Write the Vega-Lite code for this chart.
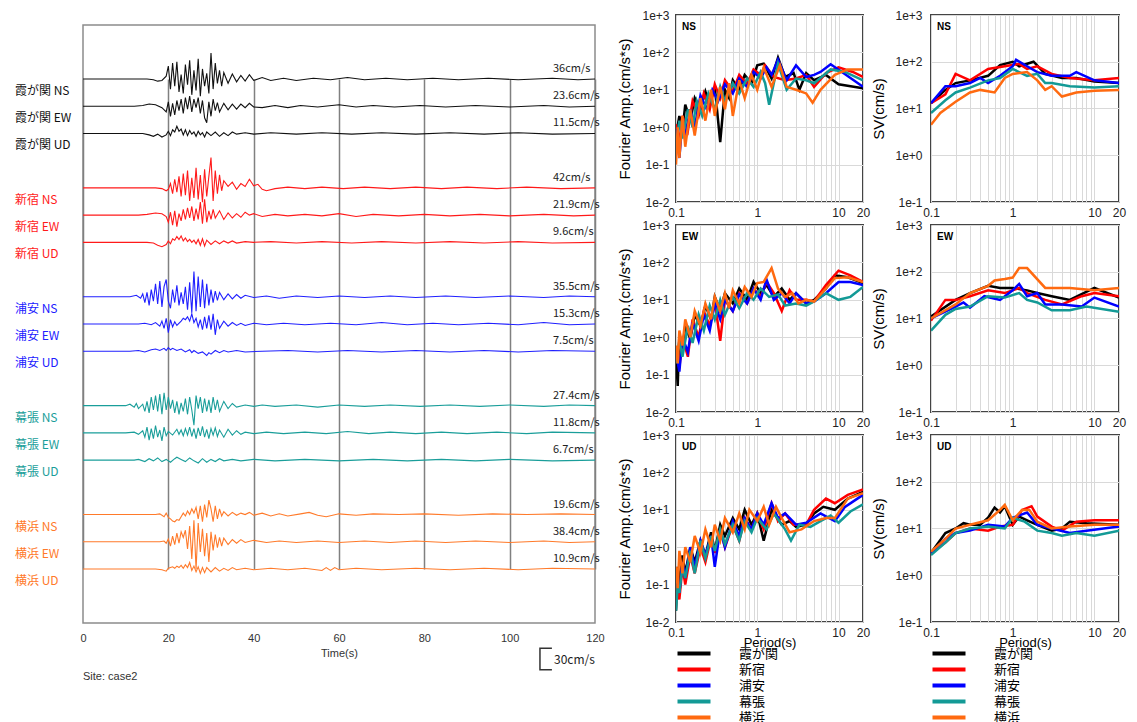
{
"$schema":"https://vega.github.io/schema/vega-lite/v6.json",
"padding":{"left":14,"top":8,"right":5,"bottom":0},
"background":"white",
"config":{"font":"Liberation Sans","axis":{"labelFont":"Liberation Sans","titleFont":"Liberation Sans"}},
"datasets":{
"wave":[
{"k":"A1","t":0,"v":0},{"k":"A1","t":15,"v":0},{"k":"A1","t":16.5,"v":-1},{"k":"A1","t":17.5,"v":-3},{"k":"A1","t":18.5,"v":-2},{"k":"A1","t":19.5,"v":4},{"k":"A1","t":20,"v":18},{"k":"A1","t":20.5,"v":-14},{"k":"A1","t":21,"v":22},{"k":"A1","t":21.5,"v":-10},{"k":"A1","t":22,"v":24},{"k":"A1","t":22.5,"v":-18},{"k":"A1","t":23,"v":6},{"k":"A1","t":23.5,"v":-20},{"k":"A1","t":24,"v":20},{"k":"A1","t":24.5,"v":-8},{"k":"A1","t":25,"v":26},{"k":"A1","t":25.5,"v":-22},{"k":"A1","t":26,"v":12},{"k":"A1","t":26.5,"v":-16},{"k":"A1","t":27,"v":28},{"k":"A1","t":27.5,"v":-24},{"k":"A1","t":28,"v":14},{"k":"A1","t":28.5,"v":-10},{"k":"A1","t":29,"v":8},{"k":"A1","t":29.5,"v":-20},{"k":"A1","t":30,"v":36},{"k":"A1","t":30.5,"v":-14},{"k":"A1","t":31,"v":22},{"k":"A1","t":31.5,"v":-6},{"k":"A1","t":32,"v":12},{"k":"A1","t":32.5,"v":-10},{"k":"A1","t":33,"v":9},{"k":"A1","t":34,"v":-6},{"k":"A1","t":35,"v":7},{"k":"A1","t":36,"v":-4},{"k":"A1","t":37,"v":5},{"k":"A1","t":38,"v":-3},{"k":"A1","t":39,"v":6},{"k":"A1","t":40,"v":-2},{"k":"A1","t":42,"v":2},{"k":"A1","t":44,"v":-2},{"k":"A1","t":47,"v":1},{"k":"A1","t":50,"v":-2},{"k":"A1","t":54,"v":1},{"k":"A1","t":58,"v":-1},{"k":"A1","t":62,"v":2},{"k":"A1","t":66,"v":-1},{"k":"A1","t":71,"v":1},{"k":"A1","t":76,"v":-1},{"k":"A1","t":82,"v":1},{"k":"A1","t":88,"v":-1},{"k":"A1","t":95,"v":1},{"k":"A1","t":102,"v":-1},{"k":"A1","t":110,"v":1},{"k":"A1","t":116,"v":-1},{"k":"A1","t":120,"v":0},
{"k":"A2","t":0,"v":0},{"k":"A2","t":12,"v":0},{"k":"A2","t":14,"v":1},{"k":"A2","t":15.5,"v":3},{"k":"A2","t":17,"v":2},{"k":"A2","t":18.5,"v":-2},{"k":"A2","t":19.5,"v":-8},{"k":"A2","t":20,"v":6},{"k":"A2","t":20.5,"v":-14},{"k":"A2","t":21,"v":4},{"k":"A2","t":21.5,"v":-12},{"k":"A2","t":22,"v":8},{"k":"A2","t":22.5,"v":-6},{"k":"A2","t":23,"v":10},{"k":"A2","t":23.5,"v":-10},{"k":"A2","t":24,"v":12},{"k":"A2","t":24.5,"v":-4},{"k":"A2","t":25,"v":14},{"k":"A2","t":25.5,"v":-8},{"k":"A2","t":26,"v":10},{"k":"A2","t":26.5,"v":-2},{"k":"A2","t":27,"v":12},{"k":"A2","t":27.5,"v":-10},{"k":"A2","t":28,"v":8},{"k":"A2","t":28.5,"v":-16},{"k":"A2","t":29,"v":-23},{"k":"A2","t":29.5,"v":6},{"k":"A2","t":30,"v":-14},{"k":"A2","t":30.5,"v":10},{"k":"A2","t":31,"v":-6},{"k":"A2","t":31.5,"v":5},{"k":"A2","t":32,"v":-8},{"k":"A2","t":33,"v":4},{"k":"A2","t":34,"v":-5},{"k":"A2","t":35,"v":3},{"k":"A2","t":36,"v":-4},{"k":"A2","t":37,"v":3},{"k":"A2","t":38,"v":-2},{"k":"A2","t":39,"v":4},{"k":"A2","t":40,"v":-1},{"k":"A2","t":42,"v":-2},{"k":"A2","t":45,"v":1},{"k":"A2","t":48,"v":-2},{"k":"A2","t":51,"v":1},{"k":"A2","t":55,"v":-1},{"k":"A2","t":60,"v":2},{"k":"A2","t":64,"v":-1},{"k":"A2","t":68,"v":1},{"k":"A2","t":73,"v":-1},{"k":"A2","t":79,"v":1},{"k":"A2","t":85,"v":-1},{"k":"A2","t":92,"v":1},{"k":"A2","t":100,"v":-1},{"k":"A2","t":108,"v":1},{"k":"A2","t":114,"v":-1},{"k":"A2","t":120,"v":0},
{"k":"A3","t":0,"v":0},{"k":"A3","t":14,"v":0},{"k":"A3","t":15.5,"v":-2},{"k":"A3","t":16.5,"v":-4},{"k":"A3","t":17.5,"v":-1},{"k":"A3","t":18.5,"v":-5},{"k":"A3","t":19.5,"v":-2},{"k":"A3","t":20,"v":3},{"k":"A3","t":20.5,"v":-3},{"k":"A3","t":21,"v":5},{"k":"A3","t":21.5,"v":2},{"k":"A3","t":22,"v":10},{"k":"A3","t":22.5,"v":3},{"k":"A3","t":23,"v":6},{"k":"A3","t":23.5,"v":-2},{"k":"A3","t":24,"v":5},{"k":"A3","t":24.5,"v":-3},{"k":"A3","t":25,"v":4},{"k":"A3","t":25.5,"v":-1},{"k":"A3","t":26,"v":2},{"k":"A3","t":26.5,"v":-4},{"k":"A3","t":27,"v":3},{"k":"A3","t":27.5,"v":-2},{"k":"A3","t":28,"v":1},{"k":"A3","t":28.5,"v":-5},{"k":"A3","t":29,"v":2},{"k":"A3","t":30,"v":-3},{"k":"A3","t":31,"v":2},{"k":"A3","t":32,"v":-4},{"k":"A3","t":33,"v":1},{"k":"A3","t":34,"v":-3},{"k":"A3","t":35,"v":2},{"k":"A3","t":36,"v":-1},{"k":"A3","t":38,"v":1},{"k":"A3","t":40,"v":-1},{"k":"A3","t":44,"v":1},{"k":"A3","t":50,"v":-1},{"k":"A3","t":56,"v":1},{"k":"A3","t":63,"v":-1},{"k":"A3","t":70,"v":1},{"k":"A3","t":78,"v":-1},{"k":"A3","t":86,"v":1},{"k":"A3","t":94,"v":-1},{"k":"A3","t":102,"v":1},{"k":"A3","t":110,"v":-1},{"k":"A3","t":120,"v":0},
{"k":"B1","t":0,"v":0},{"k":"B1","t":17,"v":0},{"k":"B1","t":18.5,"v":-1},{"k":"B1","t":19.5,"v":-4},{"k":"B1","t":20,"v":-2},{"k":"B1","t":20.5,"v":6},{"k":"B1","t":21,"v":-8},{"k":"B1","t":21.5,"v":12},{"k":"B1","t":22,"v":-6},{"k":"B1","t":22.5,"v":16},{"k":"B1","t":23,"v":-12},{"k":"B1","t":23.5,"v":20},{"k":"B1","t":24,"v":-10},{"k":"B1","t":24.5,"v":24},{"k":"B1","t":25,"v":-18},{"k":"B1","t":25.5,"v":14},{"k":"B1","t":26,"v":-14},{"k":"B1","t":26.5,"v":28},{"k":"B1","t":27,"v":-16},{"k":"B1","t":27.5,"v":18},{"k":"B1","t":28,"v":-20},{"k":"B1","t":28.5,"v":26},{"k":"B1","t":29,"v":-12},{"k":"B1","t":29.5,"v":16},{"k":"B1","t":30,"v":42},{"k":"B1","t":30.5,"v":-18},{"k":"B1","t":31,"v":24},{"k":"B1","t":31.5,"v":-8},{"k":"B1","t":32,"v":18},{"k":"B1","t":32.5,"v":-4},{"k":"B1","t":33,"v":10},{"k":"B1","t":34,"v":2},{"k":"B1","t":35,"v":8},{"k":"B1","t":36,"v":-2},{"k":"B1","t":37,"v":6},{"k":"B1","t":38,"v":2},{"k":"B1","t":39,"v":12},{"k":"B1","t":40,"v":3},{"k":"B1","t":41,"v":5},{"k":"B1","t":42,"v":-2},{"k":"B1","t":43,"v":-4},{"k":"B1","t":45,"v":-1},{"k":"B1","t":48,"v":1},{"k":"B1","t":52,"v":-1},{"k":"B1","t":56,"v":1},{"k":"B1","t":61,"v":-1},{"k":"B1","t":66,"v":1},{"k":"B1","t":72,"v":-1},{"k":"B1","t":78,"v":1},{"k":"B1","t":84,"v":-1},{"k":"B1","t":90,"v":1},{"k":"B1","t":97,"v":-1},{"k":"B1","t":104,"v":1},{"k":"B1","t":112,"v":-1},{"k":"B1","t":120,"v":0},
{"k":"B2","t":0,"v":0},{"k":"B2","t":13,"v":0},{"k":"B2","t":15,"v":1},{"k":"B2","t":17,"v":3},{"k":"B2","t":18.5,"v":2},{"k":"B2","t":19.5,"v":-2},{"k":"B2","t":20,"v":-10},{"k":"B2","t":20.5,"v":4},{"k":"B2","t":21,"v":-14},{"k":"B2","t":21.5,"v":6},{"k":"B2","t":22,"v":-16},{"k":"B2","t":22.5,"v":2},{"k":"B2","t":23,"v":-8},{"k":"B2","t":23.5,"v":8},{"k":"B2","t":24,"v":-6},{"k":"B2","t":24.5,"v":10},{"k":"B2","t":25,"v":-4},{"k":"B2","t":25.5,"v":12},{"k":"B2","t":26,"v":-8},{"k":"B2","t":26.5,"v":9},{"k":"B2","t":27,"v":-6},{"k":"B2","t":27.5,"v":18},{"k":"B2","t":28,"v":-12},{"k":"B2","t":28.5,"v":22},{"k":"B2","t":29,"v":-10},{"k":"B2","t":29.5,"v":6},{"k":"B2","t":30,"v":-6},{"k":"B2","t":30.5,"v":8},{"k":"B2","t":31,"v":-4},{"k":"B2","t":32,"v":6},{"k":"B2","t":33,"v":-6},{"k":"B2","t":34,"v":3},{"k":"B2","t":35,"v":-4},{"k":"B2","t":36,"v":2},{"k":"B2","t":37,"v":-3},{"k":"B2","t":38,"v":4},{"k":"B2","t":39,"v":0},{"k":"B2","t":40,"v":2},{"k":"B2","t":42,"v":-2},{"k":"B2","t":45,"v":1},{"k":"B2","t":48,"v":-1},{"k":"B2","t":52,"v":1},{"k":"B2","t":56,"v":-1},{"k":"B2","t":60,"v":2},{"k":"B2","t":64,"v":-2},{"k":"B2","t":68,"v":1},{"k":"B2","t":74,"v":-1},{"k":"B2","t":80,"v":1},{"k":"B2","t":86,"v":-1},{"k":"B2","t":93,"v":1},{"k":"B2","t":100,"v":-1},{"k":"B2","t":108,"v":1},{"k":"B2","t":115,"v":-1},{"k":"B2","t":120,"v":0},
{"k":"B3","t":0,"v":0},{"k":"B3","t":15,"v":0},{"k":"B3","t":16.5,"v":-1},{"k":"B3","t":17.5,"v":-4},{"k":"B3","t":18.5,"v":-6},{"k":"B3","t":19.5,"v":-3},{"k":"B3","t":20,"v":2},{"k":"B3","t":20.5,"v":-2},{"k":"B3","t":21,"v":5},{"k":"B3","t":21.5,"v":3},{"k":"B3","t":22,"v":8},{"k":"B3","t":22.5,"v":4},{"k":"B3","t":23,"v":9},{"k":"B3","t":23.5,"v":2},{"k":"B3","t":24,"v":6},{"k":"B3","t":24.5,"v":1},{"k":"B3","t":25,"v":4},{"k":"B3","t":25.5,"v":0},{"k":"B3","t":26,"v":3},{"k":"B3","t":26.5,"v":-2},{"k":"B3","t":27,"v":4},{"k":"B3","t":27.5,"v":-4},{"k":"B3","t":28,"v":5},{"k":"B3","t":28.5,"v":-5},{"k":"B3","t":29,"v":3},{"k":"B3","t":30,"v":-3},{"k":"B3","t":31,"v":2},{"k":"B3","t":32,"v":-2},{"k":"B3","t":33,"v":2},{"k":"B3","t":34,"v":-1},{"k":"B3","t":35,"v":2},{"k":"B3","t":36,"v":-1},{"k":"B3","t":38,"v":1},{"k":"B3","t":40,"v":0},{"k":"B3","t":44,"v":1},{"k":"B3","t":50,"v":-1},{"k":"B3","t":56,"v":1},{"k":"B3","t":63,"v":-1},{"k":"B3","t":70,"v":1},{"k":"B3","t":78,"v":-1},{"k":"B3","t":86,"v":1},{"k":"B3","t":94,"v":-1},{"k":"B3","t":102,"v":1},{"k":"B3","t":110,"v":-1},{"k":"B3","t":120,"v":0},
{"k":"C1","t":0,"v":0},{"k":"C1","t":11,"v":0},{"k":"C1","t":12.5,"v":2},{"k":"C1","t":13.5,"v":-2},{"k":"C1","t":14,"v":4},{"k":"C1","t":14.5,"v":-8},{"k":"C1","t":15,"v":6},{"k":"C1","t":15.5,"v":-12},{"k":"C1","t":16,"v":10},{"k":"C1","t":16.5,"v":-6},{"k":"C1","t":17,"v":18},{"k":"C1","t":17.5,"v":-10},{"k":"C1","t":18,"v":22},{"k":"C1","t":18.5,"v":-14},{"k":"C1","t":19,"v":14},{"k":"C1","t":19.5,"v":24},{"k":"C1","t":20,"v":-6},{"k":"C1","t":20.5,"v":-16},{"k":"C1","t":21,"v":10},{"k":"C1","t":21.5,"v":-8},{"k":"C1","t":22,"v":16},{"k":"C1","t":22.5,"v":-12},{"k":"C1","t":23,"v":6},{"k":"C1","t":23.5,"v":-10},{"k":"C1","t":24,"v":14},{"k":"C1","t":24.5,"v":-18},{"k":"C1","t":25,"v":20},{"k":"C1","t":25.5,"v":-22},{"k":"C1","t":26,"v":35},{"k":"C1","t":26.5,"v":-20},{"k":"C1","t":27,"v":28},{"k":"C1","t":27.5,"v":-14},{"k":"C1","t":28,"v":24},{"k":"C1","t":28.5,"v":-16},{"k":"C1","t":29,"v":18},{"k":"C1","t":29.5,"v":-12},{"k":"C1","t":30,"v":10},{"k":"C1","t":30.5,"v":-8},{"k":"C1","t":31,"v":8},{"k":"C1","t":31.5,"v":-5},{"k":"C1","t":32,"v":6},{"k":"C1","t":33,"v":-4},{"k":"C1","t":34,"v":4},{"k":"C1","t":35,"v":-3},{"k":"C1","t":36,"v":3},{"k":"C1","t":37,"v":-2},{"k":"C1","t":38,"v":2},{"k":"C1","t":40,"v":-1},{"k":"C1","t":43,"v":1},{"k":"C1","t":46,"v":-2},{"k":"C1","t":50,"v":1},{"k":"C1","t":55,"v":-1},{"k":"C1","t":60,"v":1},{"k":"C1","t":66,"v":-1},{"k":"C1","t":72,"v":1},{"k":"C1","t":78,"v":-1},{"k":"C1","t":85,"v":1},{"k":"C1","t":92,"v":-1},{"k":"C1","t":100,"v":1},{"k":"C1","t":108,"v":-1},{"k":"C1","t":114,"v":1},{"k":"C1","t":120,"v":0},
{"k":"C2","t":0,"v":0},{"k":"C2","t":13,"v":0},{"k":"C2","t":14.5,"v":1},{"k":"C2","t":16,"v":-1},{"k":"C2","t":17,"v":2},{"k":"C2","t":18,"v":-3},{"k":"C2","t":18.5,"v":4},{"k":"C2","t":19,"v":-6},{"k":"C2","t":19.5,"v":8},{"k":"C2","t":20,"v":-12},{"k":"C2","t":20.5,"v":6},{"k":"C2","t":21,"v":-4},{"k":"C2","t":21.5,"v":3},{"k":"C2","t":22,"v":-2},{"k":"C2","t":23,"v":4},{"k":"C2","t":23.5,"v":8},{"k":"C2","t":24,"v":6},{"k":"C2","t":24.5,"v":10},{"k":"C2","t":25,"v":4},{"k":"C2","t":25.5,"v":14},{"k":"C2","t":26,"v":2},{"k":"C2","t":26.5,"v":8},{"k":"C2","t":27,"v":-4},{"k":"C2","t":27.5,"v":6},{"k":"C2","t":28,"v":-8},{"k":"C2","t":28.5,"v":10},{"k":"C2","t":29,"v":-6},{"k":"C2","t":29.5,"v":12},{"k":"C2","t":30,"v":-8},{"k":"C2","t":30.5,"v":14},{"k":"C2","t":31,"v":-15},{"k":"C2","t":31.5,"v":6},{"k":"C2","t":32,"v":-6},{"k":"C2","t":33,"v":4},{"k":"C2","t":34,"v":-3},{"k":"C2","t":35,"v":2},{"k":"C2","t":36,"v":-2},{"k":"C2","t":37,"v":1},{"k":"C2","t":38,"v":-2},{"k":"C2","t":40,"v":1},{"k":"C2","t":43,"v":-1},{"k":"C2","t":47,"v":1},{"k":"C2","t":52,"v":-1},{"k":"C2","t":58,"v":1},{"k":"C2","t":64,"v":-1},{"k":"C2","t":70,"v":2},{"k":"C2","t":76,"v":-1},{"k":"C2","t":82,"v":1},{"k":"C2","t":88,"v":-1},{"k":"C2","t":95,"v":1},{"k":"C2","t":102,"v":-1},{"k":"C2","t":108,"v":2},{"k":"C2","t":114,"v":-1},{"k":"C2","t":120,"v":0},
{"k":"C3","t":0,"v":0},{"k":"C3","t":11,"v":0},{"k":"C3","t":13,"v":1},{"k":"C3","t":14.5,"v":-1},{"k":"C3","t":16,"v":2},{"k":"C3","t":17,"v":3},{"k":"C3","t":18,"v":1},{"k":"C3","t":19,"v":4},{"k":"C3","t":19.5,"v":1},{"k":"C3","t":20,"v":5},{"k":"C3","t":20.5,"v":2},{"k":"C3","t":21,"v":4},{"k":"C3","t":22,"v":1},{"k":"C3","t":23,"v":3},{"k":"C3","t":24,"v":-1},{"k":"C3","t":25,"v":2},{"k":"C3","t":25.5,"v":-2},{"k":"C3","t":26,"v":1},{"k":"C3","t":27,"v":-3},{"k":"C3","t":28,"v":-1},{"k":"C3","t":29,"v":-6},{"k":"C3","t":29.5,"v":-2},{"k":"C3","t":30,"v":-4},{"k":"C3","t":31,"v":1},{"k":"C3","t":32,"v":-2},{"k":"C3","t":33,"v":1},{"k":"C3","t":34,"v":-1},{"k":"C3","t":36,"v":1},{"k":"C3","t":38,"v":-1},{"k":"C3","t":42,"v":0},{"k":"C3","t":48,"v":1},{"k":"C3","t":55,"v":-1},{"k":"C3","t":62,"v":1},{"k":"C3","t":70,"v":-1},{"k":"C3","t":78,"v":1},{"k":"C3","t":86,"v":-1},{"k":"C3","t":94,"v":1},{"k":"C3","t":102,"v":-1},{"k":"C3","t":110,"v":1},{"k":"C3","t":120,"v":0},
{"k":"D1","t":0,"v":0},{"k":"D1","t":10,"v":0},{"k":"D1","t":11,"v":2},{"k":"D1","t":12,"v":-2},{"k":"D1","t":12.5,"v":3},{"k":"D1","t":13,"v":-4},{"k":"D1","t":14,"v":2},{"k":"D1","t":14.5,"v":-8},{"k":"D1","t":15,"v":6},{"k":"D1","t":15.5,"v":-10},{"k":"D1","t":16,"v":12},{"k":"D1","t":16.5,"v":-6},{"k":"D1","t":17,"v":14},{"k":"D1","t":17.5,"v":-8},{"k":"D1","t":18,"v":16},{"k":"D1","t":18.5,"v":-12},{"k":"D1","t":19,"v":18},{"k":"D1","t":19.5,"v":-6},{"k":"D1","t":20,"v":12},{"k":"D1","t":20.5,"v":-4},{"k":"D1","t":21,"v":8},{"k":"D1","t":21.5,"v":-10},{"k":"D1","t":22,"v":6},{"k":"D1","t":22.5,"v":-12},{"k":"D1","t":23,"v":4},{"k":"D1","t":23.5,"v":-8},{"k":"D1","t":24,"v":10},{"k":"D1","t":24.5,"v":-12},{"k":"D1","t":25,"v":12},{"k":"D1","t":25.5,"v":-6},{"k":"D1","t":26,"v":-27},{"k":"D1","t":26.5,"v":14},{"k":"D1","t":27,"v":-4},{"k":"D1","t":27.5,"v":12},{"k":"D1","t":28,"v":-10},{"k":"D1","t":28.5,"v":10},{"k":"D1","t":29,"v":-8},{"k":"D1","t":29.5,"v":8},{"k":"D1","t":30,"v":-10},{"k":"D1","t":30.5,"v":12},{"k":"D1","t":31,"v":-6},{"k":"D1","t":31.5,"v":8},{"k":"D1","t":32,"v":-8},{"k":"D1","t":33,"v":6},{"k":"D1","t":34,"v":-4},{"k":"D1","t":35,"v":3},{"k":"D1","t":36,"v":-2},{"k":"D1","t":38,"v":1},{"k":"D1","t":40,"v":-1},{"k":"D1","t":42,"v":1},{"k":"D1","t":45,"v":-1},{"k":"D1","t":50,"v":1},{"k":"D1","t":55,"v":-2},{"k":"D1","t":60,"v":1},{"k":"D1","t":66,"v":-1},{"k":"D1","t":72,"v":1},{"k":"D1","t":79,"v":-1},{"k":"D1","t":86,"v":1},{"k":"D1","t":93,"v":-1},{"k":"D1","t":100,"v":1},{"k":"D1","t":108,"v":-1},{"k":"D1","t":114,"v":1},{"k":"D1","t":120,"v":0},
{"k":"D2","t":0,"v":0},{"k":"D2","t":10,"v":0},{"k":"D2","t":12,"v":1},{"k":"D2","t":13,"v":-2},{"k":"D2","t":14,"v":3},{"k":"D2","t":14.5,"v":-6},{"k":"D2","t":15,"v":8},{"k":"D2","t":15.5,"v":-10},{"k":"D2","t":16,"v":6},{"k":"D2","t":16.5,"v":-8},{"k":"D2","t":17,"v":10},{"k":"D2","t":17.5,"v":-6},{"k":"D2","t":18,"v":4},{"k":"D2","t":18.5,"v":-11},{"k":"D2","t":19,"v":8},{"k":"D2","t":19.5,"v":-4},{"k":"D2","t":20,"v":2},{"k":"D2","t":21,"v":-3},{"k":"D2","t":22,"v":5},{"k":"D2","t":22.5,"v":-2},{"k":"D2","t":23,"v":4},{"k":"D2","t":23.5,"v":-4},{"k":"D2","t":24,"v":6},{"k":"D2","t":24.5,"v":-3},{"k":"D2","t":25,"v":8},{"k":"D2","t":25.5,"v":-5},{"k":"D2","t":26,"v":6},{"k":"D2","t":26.5,"v":-8},{"k":"D2","t":27,"v":7},{"k":"D2","t":27.5,"v":-4},{"k":"D2","t":28,"v":9},{"k":"D2","t":28.5,"v":-6},{"k":"D2","t":29,"v":5},{"k":"D2","t":29.5,"v":-8},{"k":"D2","t":30,"v":6},{"k":"D2","t":30.5,"v":-3},{"k":"D2","t":31,"v":7},{"k":"D2","t":31.5,"v":-5},{"k":"D2","t":32,"v":4},{"k":"D2","t":33,"v":-6},{"k":"D2","t":34,"v":5},{"k":"D2","t":35,"v":-3},{"k":"D2","t":36,"v":3},{"k":"D2","t":37,"v":-2},{"k":"D2","t":38,"v":1},{"k":"D2","t":40,"v":-1},{"k":"D2","t":43,"v":1},{"k":"D2","t":47,"v":-1},{"k":"D2","t":52,"v":1},{"k":"D2","t":57,"v":-1},{"k":"D2","t":62,"v":2},{"k":"D2","t":67,"v":-1},{"k":"D2","t":72,"v":1},{"k":"D2","t":78,"v":-1},{"k":"D2","t":84,"v":1},{"k":"D2","t":90,"v":-1},{"k":"D2","t":97,"v":1},{"k":"D2","t":104,"v":-1},{"k":"D2","t":110,"v":1},{"k":"D2","t":120,"v":0},
{"k":"D3","t":0,"v":0},{"k":"D3","t":12,"v":0},{"k":"D3","t":13,"v":1},{"k":"D3","t":14.5,"v":-2},{"k":"D3","t":15.5,"v":2},{"k":"D3","t":16.5,"v":-1},{"k":"D3","t":17.5,"v":3},{"k":"D3","t":18.5,"v":-2},{"k":"D3","t":19.5,"v":1},{"k":"D3","t":20.5,"v":-3},{"k":"D3","t":21.5,"v":2},{"k":"D3","t":22,"v":4},{"k":"D3","t":23,"v":1},{"k":"D3","t":24,"v":-2},{"k":"D3","t":25,"v":3},{"k":"D3","t":26,"v":-1},{"k":"D3","t":27,"v":-4},{"k":"D3","t":28,"v":2},{"k":"D3","t":29,"v":-3},{"k":"D3","t":30,"v":1},{"k":"D3","t":31,"v":-2},{"k":"D3","t":32,"v":2},{"k":"D3","t":33,"v":-1},{"k":"D3","t":35,"v":1},{"k":"D3","t":37,"v":-1},{"k":"D3","t":40,"v":1},{"k":"D3","t":45,"v":-1},{"k":"D3","t":52,"v":1},{"k":"D3","t":60,"v":-1},{"k":"D3","t":68,"v":1},{"k":"D3","t":76,"v":-1},{"k":"D3","t":84,"v":1},{"k":"D3","t":92,"v":-1},{"k":"D3","t":100,"v":1},{"k":"D3","t":110,"v":-1},{"k":"D3","t":120,"v":0},
{"k":"E1","t":0,"v":0},{"k":"E1","t":17,"v":0},{"k":"E1","t":18,"v":1},{"k":"E1","t":19,"v":-3},{"k":"E1","t":19.5,"v":2},{"k":"E1","t":20,"v":-4},{"k":"E1","t":20.5,"v":-6},{"k":"E1","t":21,"v":-9},{"k":"E1","t":21.5,"v":-10},{"k":"E1","t":22,"v":-7},{"k":"E1","t":22.5,"v":-8},{"k":"E1","t":23,"v":-3},{"k":"E1","t":23.5,"v":2},{"k":"E1","t":24,"v":-2},{"k":"E1","t":24.5,"v":5},{"k":"E1","t":25,"v":0},{"k":"E1","t":25.5,"v":8},{"k":"E1","t":26,"v":2},{"k":"E1","t":26.5,"v":10},{"k":"E1","t":27,"v":-6},{"k":"E1","t":27.5,"v":12},{"k":"E1","t":28,"v":-10},{"k":"E1","t":28.5,"v":14},{"k":"E1","t":29,"v":-4},{"k":"E1","t":29.5,"v":20},{"k":"E1","t":30,"v":8},{"k":"E1","t":30.5,"v":-10},{"k":"E1","t":31,"v":12},{"k":"E1","t":31.5,"v":-6},{"k":"E1","t":32,"v":8},{"k":"E1","t":32.5,"v":-2},{"k":"E1","t":33,"v":4},{"k":"E1","t":34,"v":-2},{"k":"E1","t":35,"v":3},{"k":"E1","t":36,"v":-1},{"k":"E1","t":37,"v":2},{"k":"E1","t":38,"v":0},{"k":"E1","t":39,"v":3},{"k":"E1","t":40,"v":-1},{"k":"E1","t":42,"v":2},{"k":"E1","t":44,"v":-2},{"k":"E1","t":46,"v":1},{"k":"E1","t":48,"v":-2},{"k":"E1","t":51,"v":1},{"k":"E1","t":53,"v":3},{"k":"E1","t":55,"v":-1},{"k":"E1","t":57,"v":-3},{"k":"E1","t":60,"v":1},{"k":"E1","t":64,"v":-1},{"k":"E1","t":68,"v":1},{"k":"E1","t":74,"v":0},{"k":"E1","t":80,"v":1},{"k":"E1","t":88,"v":-1},{"k":"E1","t":96,"v":1},{"k":"E1","t":104,"v":0},{"k":"E1","t":112,"v":1},{"k":"E1","t":120,"v":0},
{"k":"E2","t":0,"v":0},{"k":"E2","t":18,"v":0},{"k":"E2","t":19,"v":1},{"k":"E2","t":19.5,"v":-2},{"k":"E2","t":20,"v":4},{"k":"E2","t":20.5,"v":-6},{"k":"E2","t":21,"v":8},{"k":"E2","t":21.5,"v":-4},{"k":"E2","t":22,"v":12},{"k":"E2","t":22.5,"v":-2},{"k":"E2","t":23,"v":14},{"k":"E2","t":23.5,"v":6},{"k":"E2","t":24,"v":16},{"k":"E2","t":24.5,"v":-10},{"k":"E2","t":25,"v":22},{"k":"E2","t":25.5,"v":-24},{"k":"E2","t":26,"v":30},{"k":"E2","t":26.5,"v":-38},{"k":"E2","t":27,"v":26},{"k":"E2","t":27.5,"v":-14},{"k":"E2","t":28,"v":18},{"k":"E2","t":28.5,"v":-20},{"k":"E2","t":29,"v":12},{"k":"E2","t":29.5,"v":-28},{"k":"E2","t":30,"v":14},{"k":"E2","t":30.5,"v":-12},{"k":"E2","t":31,"v":10},{"k":"E2","t":31.5,"v":-8},{"k":"E2","t":32,"v":6},{"k":"E2","t":32.5,"v":-6},{"k":"E2","t":33,"v":5},{"k":"E2","t":34,"v":-4},{"k":"E2","t":35,"v":3},{"k":"E2","t":36,"v":-2},{"k":"E2","t":37,"v":3},{"k":"E2","t":38,"v":-1},{"k":"E2","t":40,"v":2},{"k":"E2","t":43,"v":-1},{"k":"E2","t":46,"v":1},{"k":"E2","t":50,"v":-1},{"k":"E2","t":55,"v":1},{"k":"E2","t":60,"v":-1},{"k":"E2","t":66,"v":1},{"k":"E2","t":72,"v":-1},{"k":"E2","t":78,"v":1},{"k":"E2","t":85,"v":-1},{"k":"E2","t":92,"v":1},{"k":"E2","t":100,"v":-1},{"k":"E2","t":108,"v":1},{"k":"E2","t":114,"v":-1},{"k":"E2","t":120,"v":0},
{"k":"E3","t":0,"v":0},{"k":"E3","t":17,"v":0},{"k":"E3","t":18.5,"v":-1},{"k":"E3","t":19.5,"v":-3},{"k":"E3","t":20,"v":1},{"k":"E3","t":21,"v":3},{"k":"E3","t":21.5,"v":1},{"k":"E3","t":22,"v":4},{"k":"E3","t":22.5,"v":2},{"k":"E3","t":23,"v":5},{"k":"E3","t":23.5,"v":1},{"k":"E3","t":24,"v":6},{"k":"E3","t":24.5,"v":2},{"k":"E3","t":25,"v":9},{"k":"E3","t":25.5,"v":-2},{"k":"E3","t":26,"v":4},{"k":"E3","t":26.5,"v":-4},{"k":"E3","t":27,"v":3},{"k":"E3","t":27.5,"v":-6},{"k":"E3","t":28,"v":2},{"k":"E3","t":28.5,"v":-5},{"k":"E3","t":29,"v":2},{"k":"E3","t":30,"v":-4},{"k":"E3","t":31,"v":2},{"k":"E3","t":32,"v":-3},{"k":"E3","t":33,"v":1},{"k":"E3","t":34,"v":-2},{"k":"E3","t":35,"v":2},{"k":"E3","t":36,"v":-1},{"k":"E3","t":38,"v":1},{"k":"E3","t":40,"v":-1},{"k":"E3","t":44,"v":1},{"k":"E3","t":48,"v":-1},{"k":"E3","t":52,"v":1},{"k":"E3","t":56,"v":-2},{"k":"E3","t":57,"v":2},{"k":"E3","t":58,"v":-2},{"k":"E3","t":59,"v":2},{"k":"E3","t":60,"v":-1},{"k":"E3","t":64,"v":1},{"k":"E3","t":70,"v":-1},{"k":"E3","t":78,"v":1},{"k":"E3","t":86,"v":-1},{"k":"E3","t":94,"v":1},{"k":"E3","t":102,"v":-1},{"k":"E3","t":110,"v":1},{"k":"E3","t":120,"v":0}
],
"labs":[
{"k":"A1","lab":"霞が関 NS","amp":"36cm/s"},{"k":"A2","lab":"霞が関 EW","amp":"23.6cm/s"},{"k":"A3","lab":"霞が関 UD","amp":"11.5cm/s"},
{"k":"B1","lab":"新宿 NS","amp":"42cm/s"},{"k":"B2","lab":"新宿 EW","amp":"21.9cm/s"},{"k":"B3","lab":"新宿 UD","amp":"9.6cm/s"},
{"k":"C1","lab":"浦安 NS","amp":"35.5cm/s"},{"k":"C2","lab":"浦安 EW","amp":"15.3cm/s"},{"k":"C3","lab":"浦安 UD","amp":"7.5cm/s"},
{"k":"D1","lab":"幕張 NS","amp":"27.4cm/s"},{"k":"D2","lab":"幕張 EW","amp":"11.8cm/s"},{"k":"D3","lab":"幕張 UD","amp":"6.7cm/s"},
{"k":"E1","lab":"横浜 NS","amp":"19.6cm/s"},{"k":"E2","lab":"横浜 EW","amp":"38.4cm/s"},{"k":"E3","lab":"横浜 UD","amp":"10.9cm/s"}
],
"bar":[{"o":1,"t":109.9,"v":-110},{"o":2,"t":107.1,"v":-110},{"o":3,"t":107.1,"v":-140},{"o":4,"t":109.9,"v":-140}],
"spec":[
{"g":"FN","s":"A","p":0.1,"a":0.6},{"g":"FN","s":"A","p":0.11,"a":2},{"g":"FN","s":"A","p":0.12,"a":0.8},{"g":"FN","s":"A","p":0.13,"a":4},{"g":"FN","s":"A","p":0.15,"a":1.5},{"g":"FN","s":"A","p":0.17,"a":6},{"g":"FN","s":"A","p":0.2,"a":3},{"g":"FN","s":"A","p":0.23,"a":9},{"g":"FN","s":"A","p":0.26,"a":4},{"g":"FN","s":"A","p":0.3,"a":12},{"g":"FN","s":"A","p":0.35,"a":0.4},{"g":"FN","s":"A","p":0.4,"a":10},{"g":"FN","s":"A","p":0.45,"a":6},{"g":"FN","s":"A","p":0.5,"a":18},{"g":"FN","s":"A","p":0.6,"a":10},{"g":"FN","s":"A","p":0.7,"a":25},{"g":"FN","s":"A","p":0.85,"a":15},{"g":"FN","s":"A","p":1,"a":45},{"g":"FN","s":"A","p":1.2,"a":50},{"g":"FN","s":"A","p":1.5,"a":20},{"g":"FN","s":"A","p":1.8,"a":72},{"g":"FN","s":"A","p":2.2,"a":22},{"g":"FN","s":"A","p":2.8,"a":28},{"g":"FN","s":"A","p":3.3,"a":10},{"g":"FN","s":"A","p":4,"a":28},{"g":"FN","s":"A","p":5,"a":18},{"g":"FN","s":"A","p":7,"a":25},{"g":"FN","s":"A","p":10,"a":14},{"g":"FN","s":"A","p":20,"a":11},
{"g":"FN","s":"B","p":0.1,"a":1.2},{"g":"FN","s":"B","p":0.11,"a":0.4},{"g":"FN","s":"B","p":0.12,"a":2},{"g":"FN","s":"B","p":0.14,"a":0.8},{"g":"FN","s":"B","p":0.16,"a":5},{"g":"FN","s":"B","p":0.19,"a":2},{"g":"FN","s":"B","p":0.22,"a":8},{"g":"FN","s":"B","p":0.26,"a":3},{"g":"FN","s":"B","p":0.3,"a":14},{"g":"FN","s":"B","p":0.35,"a":6},{"g":"FN","s":"B","p":0.4,"a":18},{"g":"FN","s":"B","p":0.5,"a":9},{"g":"FN","s":"B","p":0.6,"a":25},{"g":"FN","s":"B","p":0.75,"a":14},{"g":"FN","s":"B","p":0.9,"a":35},{"g":"FN","s":"B","p":1.1,"a":25},{"g":"FN","s":"B","p":1.25,"a":45},{"g":"FN","s":"B","p":1.6,"a":22},{"g":"FN","s":"B","p":2.2,"a":18},{"g":"FN","s":"B","p":3,"a":20},{"g":"FN","s":"B","p":4,"a":25},{"g":"FN","s":"B","p":5,"a":12},{"g":"FN","s":"B","p":7,"a":28},{"g":"FN","s":"B","p":10,"a":40},{"g":"FN","s":"B","p":15,"a":30},{"g":"FN","s":"B","p":20,"a":22},
{"g":"FN","s":"C","p":0.1,"a":0.9},{"g":"FN","s":"C","p":0.11,"a":0.15},{"g":"FN","s":"C","p":0.12,"a":1.5},{"g":"FN","s":"C","p":0.13,"a":0.6},{"g":"FN","s":"C","p":0.15,"a":3},{"g":"FN","s":"C","p":0.17,"a":1},{"g":"FN","s":"C","p":0.2,"a":7},{"g":"FN","s":"C","p":0.24,"a":3},{"g":"FN","s":"C","p":0.28,"a":10},{"g":"FN","s":"C","p":0.33,"a":5},{"g":"FN","s":"C","p":0.4,"a":14},{"g":"FN","s":"C","p":0.5,"a":8},{"g":"FN","s":"C","p":0.6,"a":20},{"g":"FN","s":"C","p":0.75,"a":12},{"g":"FN","s":"C","p":0.9,"a":30},{"g":"FN","s":"C","p":1.1,"a":20},{"g":"FN","s":"C","p":1.3,"a":40},{"g":"FN","s":"C","p":1.5,"a":25},{"g":"FN","s":"C","p":1.8,"a":65},{"g":"FN","s":"C","p":2.3,"a":18},{"g":"FN","s":"C","p":3,"a":45},{"g":"FN","s":"C","p":4,"a":22},{"g":"FN","s":"C","p":5,"a":25},{"g":"FN","s":"C","p":6,"a":30},{"g":"FN","s":"C","p":8,"a":48},{"g":"FN","s":"C","p":11,"a":30},{"g":"FN","s":"C","p":20,"a":12},
{"g":"FN","s":"D","p":0.1,"a":0.3},{"g":"FN","s":"D","p":0.11,"a":1.5},{"g":"FN","s":"D","p":0.12,"a":0.5},{"g":"FN","s":"D","p":0.14,"a":3},{"g":"FN","s":"D","p":0.16,"a":1},{"g":"FN","s":"D","p":0.18,"a":5},{"g":"FN","s":"D","p":0.21,"a":2},{"g":"FN","s":"D","p":0.25,"a":8},{"g":"FN","s":"D","p":0.3,"a":3},{"g":"FN","s":"D","p":0.35,"a":12},{"g":"FN","s":"D","p":0.4,"a":5},{"g":"FN","s":"D","p":0.5,"a":15},{"g":"FN","s":"D","p":0.6,"a":8},{"g":"FN","s":"D","p":0.75,"a":20},{"g":"FN","s":"D","p":0.9,"a":12},{"g":"FN","s":"D","p":1.1,"a":30},{"g":"FN","s":"D","p":1.25,"a":15},{"g":"FN","s":"D","p":1.4,"a":4},{"g":"FN","s":"D","p":1.8,"a":50},{"g":"FN","s":"D","p":2.3,"a":10},{"g":"FN","s":"D","p":3,"a":20},{"g":"FN","s":"D","p":4,"a":18},{"g":"FN","s":"D","p":5,"a":15},{"g":"FN","s":"D","p":8,"a":35},{"g":"FN","s":"D","p":12,"a":30},{"g":"FN","s":"D","p":20,"a":18},
{"g":"FN","s":"E","p":0.1,"a":0.1},{"g":"FN","s":"E","p":0.105,"a":1},{"g":"FN","s":"E","p":0.11,"a":0.15},{"g":"FN","s":"E","p":0.12,"a":2},{"g":"FN","s":"E","p":0.13,"a":0.3},{"g":"FN","s":"E","p":0.15,"a":3},{"g":"FN","s":"E","p":0.17,"a":0.6},{"g":"FN","s":"E","p":0.2,"a":6},{"g":"FN","s":"E","p":0.23,"a":1.5},{"g":"FN","s":"E","p":0.27,"a":10},{"g":"FN","s":"E","p":0.3,"a":2},{"g":"FN","s":"E","p":0.35,"a":12},{"g":"FN","s":"E","p":0.4,"a":3},{"g":"FN","s":"E","p":0.45,"a":15},{"g":"FN","s":"E","p":0.5,"a":2},{"g":"FN","s":"E","p":0.6,"a":18},{"g":"FN","s":"E","p":0.7,"a":6},{"g":"FN","s":"E","p":0.85,"a":25},{"g":"FN","s":"E","p":1,"a":10},{"g":"FN","s":"E","p":1.2,"a":40},{"g":"FN","s":"E","p":1.5,"a":12},{"g":"FN","s":"E","p":1.9,"a":45},{"g":"FN","s":"E","p":2.3,"a":12},{"g":"FN","s":"E","p":3,"a":10},{"g":"FN","s":"E","p":4,"a":8},{"g":"FN","s":"E","p":4.8,"a":4.5},{"g":"FN","s":"E","p":6,"a":10},{"g":"FN","s":"E","p":9,"a":25},{"g":"FN","s":"E","p":13,"a":35},{"g":"FN","s":"E","p":20,"a":35},
{"g":"FE","s":"A","p":0.1,"a":0.3},{"g":"FE","s":"A","p":0.105,"a":0.05},{"g":"FE","s":"A","p":0.11,"a":1.2},{"g":"FE","s":"A","p":0.12,"a":0.5},{"g":"FE","s":"A","p":0.13,"a":2},{"g":"FE","s":"A","p":0.15,"a":0.9},{"g":"FE","s":"A","p":0.17,"a":4},{"g":"FE","s":"A","p":0.2,"a":2},{"g":"FE","s":"A","p":0.23,"a":7},{"g":"FE","s":"A","p":0.27,"a":3},{"g":"FE","s":"A","p":0.3,"a":12},{"g":"FE","s":"A","p":0.35,"a":5},{"g":"FE","s":"A","p":0.4,"a":15},{"g":"FE","s":"A","p":0.5,"a":8},{"g":"FE","s":"A","p":0.6,"a":20},{"g":"FE","s":"A","p":0.75,"a":10},{"g":"FE","s":"A","p":0.9,"a":30},{"g":"FE","s":"A","p":1.1,"a":15},{"g":"FE","s":"A","p":1.3,"a":25},{"g":"FE","s":"A","p":1.6,"a":12},{"g":"FE","s":"A","p":2,"a":20},{"g":"FE","s":"A","p":2.5,"a":10},{"g":"FE","s":"A","p":3,"a":15},{"g":"FE","s":"A","p":4,"a":8},{"g":"FE","s":"A","p":5,"a":10},{"g":"FE","s":"A","p":7,"a":20},{"g":"FE","s":"A","p":9,"a":45},{"g":"FE","s":"A","p":13,"a":40},{"g":"FE","s":"A","p":20,"a":28},
{"g":"FE","s":"B","p":0.1,"a":0.5},{"g":"FE","s":"B","p":0.11,"a":0.15},{"g":"FE","s":"B","p":0.12,"a":1},{"g":"FE","s":"B","p":0.14,"a":0.3},{"g":"FE","s":"B","p":0.16,"a":3},{"g":"FE","s":"B","p":0.19,"a":1},{"g":"FE","s":"B","p":0.22,"a":5},{"g":"FE","s":"B","p":0.26,"a":2},{"g":"FE","s":"B","p":0.3,"a":9},{"g":"FE","s":"B","p":0.35,"a":0.8},{"g":"FE","s":"B","p":0.4,"a":10},{"g":"FE","s":"B","p":0.5,"a":5},{"g":"FE","s":"B","p":0.6,"a":15},{"g":"FE","s":"B","p":0.75,"a":8},{"g":"FE","s":"B","p":0.9,"a":20},{"g":"FE","s":"B","p":1.1,"a":12},{"g":"FE","s":"B","p":1.3,"a":30},{"g":"FE","s":"B","p":1.6,"a":15},{"g":"FE","s":"B","p":2,"a":5},{"g":"FE","s":"B","p":2.5,"a":18},{"g":"FE","s":"B","p":3,"a":10},{"g":"FE","s":"B","p":4,"a":10},{"g":"FE","s":"B","p":5,"a":9},{"g":"FE","s":"B","p":7,"a":25},{"g":"FE","s":"B","p":10,"a":60},{"g":"FE","s":"B","p":14,"a":45},{"g":"FE","s":"B","p":20,"a":30},
{"g":"FE","s":"C","p":0.1,"a":0.4},{"g":"FE","s":"C","p":0.11,"a":0.12},{"g":"FE","s":"C","p":0.12,"a":1},{"g":"FE","s":"C","p":0.14,"a":0.4},{"g":"FE","s":"C","p":0.16,"a":2.5},{"g":"FE","s":"C","p":0.19,"a":0.8},{"g":"FE","s":"C","p":0.22,"a":4},{"g":"FE","s":"C","p":0.26,"a":1.5},{"g":"FE","s":"C","p":0.3,"a":8},{"g":"FE","s":"C","p":0.35,"a":3},{"g":"FE","s":"C","p":0.4,"a":10},{"g":"FE","s":"C","p":0.5,"a":5},{"g":"FE","s":"C","p":0.6,"a":14},{"g":"FE","s":"C","p":0.75,"a":8},{"g":"FE","s":"C","p":0.9,"a":20},{"g":"FE","s":"C","p":1.1,"a":10},{"g":"FE","s":"C","p":1.3,"a":35},{"g":"FE","s":"C","p":1.6,"a":10},{"g":"FE","s":"C","p":2,"a":15},{"g":"FE","s":"C","p":2.5,"a":8},{"g":"FE","s":"C","p":3,"a":15},{"g":"FE","s":"C","p":4,"a":8},{"g":"FE","s":"C","p":5,"a":9},{"g":"FE","s":"C","p":7,"a":15},{"g":"FE","s":"C","p":10,"a":30},{"g":"FE","s":"C","p":14,"a":30},{"g":"FE","s":"C","p":20,"a":25},
{"g":"FE","s":"D","p":0.1,"a":0.2},{"g":"FE","s":"D","p":0.11,"a":0.8},{"g":"FE","s":"D","p":0.12,"a":0.3},{"g":"FE","s":"D","p":0.14,"a":2},{"g":"FE","s":"D","p":0.16,"a":0.7},{"g":"FE","s":"D","p":0.19,"a":4},{"g":"FE","s":"D","p":0.22,"a":1.5},{"g":"FE","s":"D","p":0.26,"a":7},{"g":"FE","s":"D","p":0.3,"a":3},{"g":"FE","s":"D","p":0.35,"a":10},{"g":"FE","s":"D","p":0.4,"a":4},{"g":"FE","s":"D","p":0.5,"a":12},{"g":"FE","s":"D","p":0.6,"a":6},{"g":"FE","s":"D","p":0.75,"a":15},{"g":"FE","s":"D","p":0.9,"a":10},{"g":"FE","s":"D","p":1.1,"a":20},{"g":"FE","s":"D","p":1.4,"a":12},{"g":"FE","s":"D","p":1.8,"a":14},{"g":"FE","s":"D","p":2.2,"a":7},{"g":"FE","s":"D","p":3,"a":8},{"g":"FE","s":"D","p":4,"a":7},{"g":"FE","s":"D","p":5,"a":9},{"g":"FE","s":"D","p":7,"a":15},{"g":"FE","s":"D","p":10,"a":10},{"g":"FE","s":"D","p":14,"a":12},{"g":"FE","s":"D","p":20,"a":22},
{"g":"FE","s":"E","p":0.1,"a":0.6},{"g":"FE","s":"E","p":0.105,"a":0.2},{"g":"FE","s":"E","p":0.11,"a":1.5},{"g":"FE","s":"E","p":0.12,"a":0.6},{"g":"FE","s":"E","p":0.13,"a":3},{"g":"FE","s":"E","p":0.15,"a":1},{"g":"FE","s":"E","p":0.17,"a":5},{"g":"FE","s":"E","p":0.2,"a":2},{"g":"FE","s":"E","p":0.23,"a":8},{"g":"FE","s":"E","p":0.27,"a":3},{"g":"FE","s":"E","p":0.3,"a":12},{"g":"FE","s":"E","p":0.35,"a":5},{"g":"FE","s":"E","p":0.4,"a":15},{"g":"FE","s":"E","p":0.45,"a":6},{"g":"FE","s":"E","p":0.5,"a":18},{"g":"FE","s":"E","p":0.6,"a":8},{"g":"FE","s":"E","p":0.7,"a":22},{"g":"FE","s":"E","p":0.85,"a":12},{"g":"FE","s":"E","p":1,"a":28},{"g":"FE","s":"E","p":1.2,"a":30},{"g":"FE","s":"E","p":1.5,"a":70},{"g":"FE","s":"E","p":1.8,"a":20},{"g":"FE","s":"E","p":2.2,"a":12},{"g":"FE","s":"E","p":2.7,"a":15},{"g":"FE","s":"E","p":3.2,"a":8},{"g":"FE","s":"E","p":4,"a":10},{"g":"FE","s":"E","p":5,"a":9},{"g":"FE","s":"E","p":7,"a":20},{"g":"FE","s":"E","p":9,"a":38},{"g":"FE","s":"E","p":13,"a":40},{"g":"FE","s":"E","p":20,"a":30},
{"g":"FU","s":"A","p":0.1,"a":0.02},{"g":"FU","s":"A","p":0.105,"a":0.3},{"g":"FU","s":"A","p":0.11,"a":0.1},{"g":"FU","s":"A","p":0.12,"a":0.6},{"g":"FU","s":"A","p":0.13,"a":0.2},{"g":"FU","s":"A","p":0.15,"a":1},{"g":"FU","s":"A","p":0.17,"a":0.4},{"g":"FU","s":"A","p":0.2,"a":1.5},{"g":"FU","s":"A","p":0.23,"a":0.6},{"g":"FU","s":"A","p":0.27,"a":2.5},{"g":"FU","s":"A","p":0.3,"a":0.8},{"g":"FU","s":"A","p":0.35,"a":4},{"g":"FU","s":"A","p":0.4,"a":2},{"g":"FU","s":"A","p":0.5,"a":6},{"g":"FU","s":"A","p":0.6,"a":3},{"g":"FU","s":"A","p":0.7,"a":10},{"g":"FU","s":"A","p":0.85,"a":4},{"g":"FU","s":"A","p":1,"a":8},{"g":"FU","s":"A","p":1.2,"a":1.5},{"g":"FU","s":"A","p":1.5,"a":10},{"g":"FU","s":"A","p":2,"a":4},{"g":"FU","s":"A","p":2.5,"a":5},{"g":"FU","s":"A","p":3,"a":3.5},{"g":"FU","s":"A","p":4,"a":4},{"g":"FU","s":"A","p":5,"a":8},{"g":"FU","s":"A","p":6.5,"a":12},{"g":"FU","s":"A","p":9,"a":10},{"g":"FU","s":"A","p":13,"a":20},{"g":"FU","s":"A","p":20,"a":30},
{"g":"FU","s":"B","p":0.1,"a":0.1},{"g":"FU","s":"B","p":0.11,"a":0.04},{"g":"FU","s":"B","p":0.12,"a":0.3},{"g":"FU","s":"B","p":0.13,"a":0.1},{"g":"FU","s":"B","p":0.15,"a":0.6},{"g":"FU","s":"B","p":0.17,"a":0.2},{"g":"FU","s":"B","p":0.2,"a":1},{"g":"FU","s":"B","p":0.23,"a":0.4},{"g":"FU","s":"B","p":0.27,"a":1.8},{"g":"FU","s":"B","p":0.3,"a":0.7},{"g":"FU","s":"B","p":0.35,"a":3},{"g":"FU","s":"B","p":0.4,"a":1},{"g":"FU","s":"B","p":0.5,"a":4},{"g":"FU","s":"B","p":0.6,"a":1.5},{"g":"FU","s":"B","p":0.7,"a":6},{"g":"FU","s":"B","p":0.85,"a":3},{"g":"FU","s":"B","p":1,"a":8},{"g":"FU","s":"B","p":1.2,"a":3},{"g":"FU","s":"B","p":1.5,"a":15},{"g":"FU","s":"B","p":1.8,"a":5},{"g":"FU","s":"B","p":2.2,"a":8},{"g":"FU","s":"B","p":2.8,"a":4},{"g":"FU","s":"B","p":4,"a":4},{"g":"FU","s":"B","p":5,"a":10},{"g":"FU","s":"B","p":7,"a":20},{"g":"FU","s":"B","p":9,"a":15},{"g":"FU","s":"B","p":13,"a":25},{"g":"FU","s":"B","p":20,"a":35},
{"g":"FU","s":"C","p":0.1,"a":0.15},{"g":"FU","s":"C","p":0.11,"a":0.06},{"g":"FU","s":"C","p":0.12,"a":0.4},{"g":"FU","s":"C","p":0.13,"a":0.15},{"g":"FU","s":"C","p":0.15,"a":1},{"g":"FU","s":"C","p":0.17,"a":0.3},{"g":"FU","s":"C","p":0.2,"a":1.5},{"g":"FU","s":"C","p":0.23,"a":0.6},{"g":"FU","s":"C","p":0.27,"a":2},{"g":"FU","s":"C","p":0.3,"a":0.3},{"g":"FU","s":"C","p":0.35,"a":3},{"g":"FU","s":"C","p":0.4,"a":1},{"g":"FU","s":"C","p":0.5,"a":5},{"g":"FU","s":"C","p":0.6,"a":2},{"g":"FU","s":"C","p":0.7,"a":6},{"g":"FU","s":"C","p":0.85,"a":3},{"g":"FU","s":"C","p":1,"a":8},{"g":"FU","s":"C","p":1.2,"a":4},{"g":"FU","s":"C","p":1.5,"a":15},{"g":"FU","s":"C","p":1.8,"a":6},{"g":"FU","s":"C","p":2.2,"a":8},{"g":"FU","s":"C","p":3,"a":4},{"g":"FU","s":"C","p":4,"a":4.5},{"g":"FU","s":"C","p":6,"a":8},{"g":"FU","s":"C","p":9,"a":5},{"g":"FU","s":"C","p":12,"a":12},{"g":"FU","s":"C","p":20,"a":25},
{"g":"FU","s":"D","p":0.1,"a":0.02},{"g":"FU","s":"D","p":0.105,"a":0.1},{"g":"FU","s":"D","p":0.11,"a":0.06},{"g":"FU","s":"D","p":0.12,"a":0.3},{"g":"FU","s":"D","p":0.13,"a":0.15},{"g":"FU","s":"D","p":0.15,"a":0.8},{"g":"FU","s":"D","p":0.17,"a":0.2},{"g":"FU","s":"D","p":0.2,"a":1.5},{"g":"FU","s":"D","p":0.23,"a":0.5},{"g":"FU","s":"D","p":0.27,"a":2},{"g":"FU","s":"D","p":0.3,"a":0.8},{"g":"FU","s":"D","p":0.35,"a":3},{"g":"FU","s":"D","p":0.4,"a":1.2},{"g":"FU","s":"D","p":0.5,"a":4},{"g":"FU","s":"D","p":0.6,"a":1.5},{"g":"FU","s":"D","p":0.7,"a":5},{"g":"FU","s":"D","p":0.85,"a":2.5},{"g":"FU","s":"D","p":1,"a":6},{"g":"FU","s":"D","p":1.3,"a":3},{"g":"FU","s":"D","p":1.6,"a":8},{"g":"FU","s":"D","p":2.2,"a":3},{"g":"FU","s":"D","p":2.6,"a":1.5},{"g":"FU","s":"D","p":3.3,"a":4},{"g":"FU","s":"D","p":4.5,"a":3.5},{"g":"FU","s":"D","p":6,"a":5},{"g":"FU","s":"D","p":8,"a":7},{"g":"FU","s":"D","p":10,"a":4.5},{"g":"FU","s":"D","p":14,"a":9},{"g":"FU","s":"D","p":20,"a":14},
{"g":"FU","s":"E","p":0.1,"a":0.3},{"g":"FU","s":"E","p":0.105,"a":0.08},{"g":"FU","s":"E","p":0.11,"a":0.8},{"g":"FU","s":"E","p":0.12,"a":0.2},{"g":"FU","s":"E","p":0.13,"a":1},{"g":"FU","s":"E","p":0.15,"a":0.4},{"g":"FU","s":"E","p":0.17,"a":2},{"g":"FU","s":"E","p":0.2,"a":0.7},{"g":"FU","s":"E","p":0.23,"a":3},{"g":"FU","s":"E","p":0.27,"a":1},{"g":"FU","s":"E","p":0.3,"a":4},{"g":"FU","s":"E","p":0.35,"a":1.5},{"g":"FU","s":"E","p":0.4,"a":6},{"g":"FU","s":"E","p":0.5,"a":2.5},{"g":"FU","s":"E","p":0.6,"a":8},{"g":"FU","s":"E","p":0.7,"a":3},{"g":"FU","s":"E","p":0.8,"a":10},{"g":"FU","s":"E","p":1,"a":5},{"g":"FU","s":"E","p":1.2,"a":12},{"g":"FU","s":"E","p":1.4,"a":4},{"g":"FU","s":"E","p":1.7,"a":12},{"g":"FU","s":"E","p":2,"a":6},{"g":"FU","s":"E","p":2.5,"a":2.5},{"g":"FU","s":"E","p":3.5,"a":3},{"g":"FU","s":"E","p":5,"a":5},{"g":"FU","s":"E","p":7,"a":6},{"g":"FU","s":"E","p":9,"a":6},{"g":"FU","s":"E","p":13,"a":20},{"g":"FU","s":"E","p":20,"a":28},
{"g":"SN","s":"A","p":0.1,"a":13},{"g":"SN","s":"A","p":0.15,"a":25},{"g":"SN","s":"A","p":0.2,"a":35},{"g":"SN","s":"A","p":0.3,"a":40},{"g":"SN","s":"A","p":0.5,"a":50},{"g":"SN","s":"A","p":0.7,"a":85},{"g":"SN","s":"A","p":1,"a":100},{"g":"SN","s":"A","p":1.2,"a":80},{"g":"SN","s":"A","p":1.8,"a":100},{"g":"SN","s":"A","p":2.5,"a":55},{"g":"SN","s":"A","p":4,"a":45},{"g":"SN","s":"A","p":6,"a":45},{"g":"SN","s":"A","p":10,"a":38},{"g":"SN","s":"A","p":20,"a":35},
{"g":"SN","s":"B","p":0.1,"a":13},{"g":"SN","s":"B","p":0.15,"a":20},{"g":"SN","s":"B","p":0.2,"a":55},{"g":"SN","s":"B","p":0.3,"a":40},{"g":"SN","s":"B","p":0.5,"a":70},{"g":"SN","s":"B","p":0.8,"a":80},{"g":"SN","s":"B","p":1.2,"a":90},{"g":"SN","s":"B","p":1.5,"a":70},{"g":"SN","s":"B","p":2,"a":80},{"g":"SN","s":"B","p":3,"a":55},{"g":"SN","s":"B","p":5,"a":45},{"g":"SN","s":"B","p":10,"a":40},{"g":"SN","s":"B","p":20,"a":45},
{"g":"SN","s":"C","p":0.1,"a":13},{"g":"SN","s":"C","p":0.15,"a":30},{"g":"SN","s":"C","p":0.2,"a":30},{"g":"SN","s":"C","p":0.3,"a":35},{"g":"SN","s":"C","p":0.4,"a":45},{"g":"SN","s":"C","p":0.5,"a":35},{"g":"SN","s":"C","p":0.7,"a":50},{"g":"SN","s":"C","p":1,"a":80},{"g":"SN","s":"C","p":1.1,"a":110},{"g":"SN","s":"C","p":1.5,"a":80},{"g":"SN","s":"C","p":2,"a":60},{"g":"SN","s":"C","p":3,"a":50},{"g":"SN","s":"C","p":5,"a":50},{"g":"SN","s":"C","p":6,"a":60},{"g":"SN","s":"C","p":10,"a":40},{"g":"SN","s":"C","p":20,"a":35},
{"g":"SN","s":"D","p":0.1,"a":8},{"g":"SN","s":"D","p":0.15,"a":15},{"g":"SN","s":"D","p":0.2,"a":22},{"g":"SN","s":"D","p":0.3,"a":28},{"g":"SN","s":"D","p":0.5,"a":40},{"g":"SN","s":"D","p":0.7,"a":45},{"g":"SN","s":"D","p":1,"a":70},{"g":"SN","s":"D","p":1.5,"a":50},{"g":"SN","s":"D","p":2,"a":55},{"g":"SN","s":"D","p":2.5,"a":35},{"g":"SN","s":"D","p":3,"a":35},{"g":"SN","s":"D","p":5,"a":30},{"g":"SN","s":"D","p":10,"a":28},{"g":"SN","s":"D","p":20,"a":30},
{"g":"SN","s":"E","p":0.1,"a":4.5},{"g":"SN","s":"E","p":0.13,"a":8},{"g":"SN","s":"E","p":0.2,"a":14},{"g":"SN","s":"E","p":0.3,"a":22},{"g":"SN","s":"E","p":0.4,"a":25},{"g":"SN","s":"E","p":0.6,"a":22},{"g":"SN","s":"E","p":0.8,"a":45},{"g":"SN","s":"E","p":1,"a":55},{"g":"SN","s":"E","p":1.5,"a":60},{"g":"SN","s":"E","p":2,"a":40},{"g":"SN","s":"E","p":2.5,"a":25},{"g":"SN","s":"E","p":3,"a":30},{"g":"SN","s":"E","p":4,"a":18},{"g":"SN","s":"E","p":6,"a":22},{"g":"SN","s":"E","p":10,"a":24},{"g":"SN","s":"E","p":20,"a":25},
{"g":"SE","s":"A","p":0.1,"a":11},{"g":"SE","s":"A","p":0.2,"a":25},{"g":"SE","s":"A","p":0.3,"a":35},{"g":"SE","s":"A","p":0.5,"a":50},{"g":"SE","s":"A","p":0.7,"a":45},{"g":"SE","s":"A","p":1,"a":45},{"g":"SE","s":"A","p":1.5,"a":40},{"g":"SE","s":"A","p":2,"a":35},{"g":"SE","s":"A","p":3,"a":30},{"g":"SE","s":"A","p":5,"a":25},{"g":"SE","s":"A","p":10,"a":45},{"g":"SE","s":"A","p":20,"a":28},
{"g":"SE","s":"B","p":0.1,"a":9},{"g":"SE","s":"B","p":0.15,"a":25},{"g":"SE","s":"B","p":0.2,"a":25},{"g":"SE","s":"B","p":0.3,"a":30},{"g":"SE","s":"B","p":0.5,"a":40},{"g":"SE","s":"B","p":0.8,"a":35},{"g":"SE","s":"B","p":1.2,"a":45},{"g":"SE","s":"B","p":1.5,"a":35},{"g":"SE","s":"B","p":2.5,"a":25},{"g":"SE","s":"B","p":4,"a":20},{"g":"SE","s":"B","p":7,"a":30},{"g":"SE","s":"B","p":10,"a":35},{"g":"SE","s":"B","p":20,"a":30},
{"g":"SE","s":"C","p":0.1,"a":10},{"g":"SE","s":"C","p":0.2,"a":18},{"g":"SE","s":"C","p":0.25,"a":22},{"g":"SE","s":"C","p":0.3,"a":17},{"g":"SE","s":"C","p":0.45,"a":30},{"g":"SE","s":"C","p":0.7,"a":25},{"g":"SE","s":"C","p":1,"a":40},{"g":"SE","s":"C","p":1.2,"a":55},{"g":"SE","s":"C","p":1.5,"a":30},{"g":"SE","s":"C","p":2,"a":35},{"g":"SE","s":"C","p":2.5,"a":20},{"g":"SE","s":"C","p":4,"a":20},{"g":"SE","s":"C","p":7,"a":18},{"g":"SE","s":"C","p":10,"a":28},{"g":"SE","s":"C","p":20,"a":18},
{"g":"SE","s":"D","p":0.1,"a":5.5},{"g":"SE","s":"D","p":0.15,"a":12},{"g":"SE","s":"D","p":0.2,"a":16},{"g":"SE","s":"D","p":0.3,"a":18},{"g":"SE","s":"D","p":0.5,"a":30},{"g":"SE","s":"D","p":0.8,"a":28},{"g":"SE","s":"D","p":1.2,"a":35},{"g":"SE","s":"D","p":1.5,"a":25},{"g":"SE","s":"D","p":2,"a":22},{"g":"SE","s":"D","p":3,"a":15},{"g":"SE","s":"D","p":5,"a":15},{"g":"SE","s":"D","p":8,"a":18},{"g":"SE","s":"D","p":20,"a":14},
{"g":"SE","s":"E","p":0.1,"a":10},{"g":"SE","s":"E","p":0.2,"a":20},{"g":"SE","s":"E","p":0.3,"a":35},{"g":"SE","s":"E","p":0.5,"a":50},{"g":"SE","s":"E","p":0.6,"a":65},{"g":"SE","s":"E","p":0.8,"a":70},{"g":"SE","s":"E","p":1,"a":75},{"g":"SE","s":"E","p":1.2,"a":120},{"g":"SE","s":"E","p":1.5,"a":120},{"g":"SE","s":"E","p":2.5,"a":45},{"g":"SE","s":"E","p":5,"a":45},{"g":"SE","s":"E","p":10,"a":40},{"g":"SE","s":"E","p":20,"a":45},
{"g":"SU","s":"A","p":0.1,"a":3},{"g":"SU","s":"A","p":0.15,"a":8},{"g":"SU","s":"A","p":0.2,"a":10},{"g":"SU","s":"A","p":0.25,"a":13},{"g":"SU","s":"A","p":0.3,"a":12},{"g":"SU","s":"A","p":0.4,"a":12},{"g":"SU","s":"A","p":0.5,"a":17},{"g":"SU","s":"A","p":0.6,"a":28},{"g":"SU","s":"A","p":0.7,"a":22},{"g":"SU","s":"A","p":0.8,"a":30},{"g":"SU","s":"A","p":1,"a":12},{"g":"SU","s":"A","p":1.2,"a":18},{"g":"SU","s":"A","p":1.5,"a":15},{"g":"SU","s":"A","p":2,"a":12},{"g":"SU","s":"A","p":3,"a":9},{"g":"SU","s":"A","p":4,"a":10},{"g":"SU","s":"A","p":5,"a":14},{"g":"SU","s":"A","p":8,"a":13},{"g":"SU","s":"A","p":20,"a":12},
{"g":"SU","s":"B","p":0.1,"a":3},{"g":"SU","s":"B","p":0.15,"a":5},{"g":"SU","s":"B","p":0.2,"a":8},{"g":"SU","s":"B","p":0.3,"a":10},{"g":"SU","s":"B","p":0.5,"a":9},{"g":"SU","s":"B","p":0.7,"a":11},{"g":"SU","s":"B","p":1,"a":12},{"g":"SU","s":"B","p":1.3,"a":25},{"g":"SU","s":"B","p":1.7,"a":30},{"g":"SU","s":"B","p":2,"a":18},{"g":"SU","s":"B","p":3,"a":11},{"g":"SU","s":"B","p":4,"a":9},{"g":"SU","s":"B","p":6,"a":14},{"g":"SU","s":"B","p":10,"a":15},{"g":"SU","s":"B","p":20,"a":15},
{"g":"SU","s":"C","p":0.1,"a":3},{"g":"SU","s":"C","p":0.15,"a":6},{"g":"SU","s":"C","p":0.2,"a":8},{"g":"SU","s":"C","p":0.3,"a":9},{"g":"SU","s":"C","p":0.5,"a":12},{"g":"SU","s":"C","p":0.8,"a":11},{"g":"SU","s":"C","p":1,"a":17},{"g":"SU","s":"C","p":1.5,"a":22},{"g":"SU","s":"C","p":2,"a":12},{"g":"SU","s":"C","p":3,"a":10},{"g":"SU","s":"C","p":5,"a":8},{"g":"SU","s":"C","p":8,"a":9},{"g":"SU","s":"C","p":20,"a":11},
{"g":"SU","s":"D","p":0.1,"a":2.7},{"g":"SU","s":"D","p":0.15,"a":5},{"g":"SU","s":"D","p":0.2,"a":8},{"g":"SU","s":"D","p":0.3,"a":10},{"g":"SU","s":"D","p":0.5,"a":11},{"g":"SU","s":"D","p":0.8,"a":10},{"g":"SU","s":"D","p":1,"a":17},{"g":"SU","s":"D","p":1.4,"a":14},{"g":"SU","s":"D","p":2,"a":9},{"g":"SU","s":"D","p":3,"a":8},{"g":"SU","s":"D","p":4,"a":7},{"g":"SU","s":"D","p":6,"a":8},{"g":"SU","s":"D","p":10,"a":7},{"g":"SU","s":"D","p":20,"a":9},
{"g":"SU","s":"E","p":0.1,"a":3.2},{"g":"SU","s":"E","p":0.15,"a":6},{"g":"SU","s":"E","p":0.2,"a":10},{"g":"SU","s":"E","p":0.3,"a":12},{"g":"SU","s":"E","p":0.5,"a":15},{"g":"SU","s":"E","p":0.7,"a":25},{"g":"SU","s":"E","p":0.8,"a":32},{"g":"SU","s":"E","p":1,"a":15},{"g":"SU","s":"E","p":1.3,"a":25},{"g":"SU","s":"E","p":1.6,"a":25},{"g":"SU","s":"E","p":2,"a":14},{"g":"SU","s":"E","p":3,"a":10},{"g":"SU","s":"E","p":5,"a":11},{"g":"SU","s":"E","p":10,"a":12},{"g":"SU","s":"E","p":20,"a":12}
]
},
"hconcat":[
{"vconcat":[
{"width":512,"height":1,"view":{"stroke":null},"data":{"values":[{}]},"mark":{"type":"text"},"encoding":{"text":{"value":""}}},
{"width":512,"height":598,"view":{"stroke":"#8c8c8c","strokeWidth":1.5},
"layer":[
{"data":{"name":"wave"},"mark":{"type":"line","strokeWidth":1.1},
"encoding":{
"x":{"field":"t","type":"quantitative","scale":{"domain":[0,120],"nice":false,"zero":false},"axis":{"values":[0,20,40,60,80,100,120],"grid":true,"gridColor":"#808080","gridWidth":1.5,"domain":false,"ticks":false,"labelFontSize":11,"labelColor":"#333","labelPadding":9,"labelFlush":false,"title":"Time(s)","titleFontSize":11,"titleFontWeight":"normal","titleColor":"#333","titlePadding":4}},
"y":{"field":"k","type":"nominal","scale":{"type":"point","domain":["A1","A2","A3","g1","B1","B2","B3","g2","C1","C2","C3","g3","D1","D2","D3","g4","E1","E2","E3"],"range":[54,544],"padding":0},"axis":null},
"yOffset":{"field":"v","type":"quantitative","scale":{"domain":[-30,30],"range":[21.6,-21.6],"zero":false,"nice":false}},
"color":{"field":"k","type":"nominal","scale":{"domain":["A1","A2","A3","B1","B2","B3","C1","C2","C3","D1","D2","D3","E1","E2","E3"],"range":["#111111","#111111","#111111","#FF1A1A","#FF1A1A","#FF1A1A","#2020FF","#2020FF","#2020FF","#1A9E9A","#1A9E9A","#1A9E9A","#FF7A2A","#FF7A2A","#FF7A2A"]},"legend":null},
"detail":{"field":"k"},
"order":{"field":"t","type":"quantitative"}}},
{"data":{"name":"labs"},"mark":{"type":"text","align":"left","baseline":"middle","dx":-68,"dy":12,"font":"Noto Sans CJK JP","fontSize":12},
"encoding":{"x":{"datum":0,"type":"quantitative"},"y":{"field":"k","type":"nominal"},"color":{"field":"k","type":"nominal","legend":null},"text":{"field":"lab"}}},
{"data":{"name":"labs"},"mark":{"type":"text","align":"left","baseline":"middle","dx":-42,"dy":-10,"font":"Noto Sans CJK JP","fontSize":11,"color":"#222"},
"encoding":{"x":{"datum":120,"type":"quantitative"},"y":{"field":"k","type":"nominal"},"text":{"field":"amp"}}},
{"data":{"name":"bar"},"mark":{"type":"line","color":"#333","strokeWidth":1.5},
"encoding":{"x":{"field":"t","type":"quantitative"},"y":{"datum":"E3","type":"nominal"},"yOffset":{"field":"v","type":"quantitative","scale":{"domain":[-30,30],"range":[21.6,-21.6],"zero":false,"nice":false}},"order":{"field":"o","type":"quantitative"}}},
{"data":{"values":[{}]},"mark":{"type":"text","text":"30cm/s","align":"left","baseline":"middle","font":"Noto Sans CJK JP","fontSize":12,"color":"#222"},
"encoding":{"x":{"datum":110.4,"type":"quantitative"},"y":{"datum":"E3","type":"nominal"},"yOffset":{"datum":-126,"type":"quantitative","scale":{"domain":[-30,30],"range":[21.6,-21.6],"zero":false,"nice":false}}}},
{"data":{"values":[{}]},"mark":{"type":"text","text":"Site:  case2","align":"left","baseline":"middle","fontSize":11,"color":"#333"},
"encoding":{"x":{"datum":0,"type":"quantitative"},"y":{"datum":"E3","type":"nominal"},"yOffset":{"datum":-150,"type":"quantitative","scale":{"domain":[-30,30],"range":[21.6,-21.6],"zero":false,"nice":false}}}}
]}
],"spacing":9,"bounds":"flush","resolve":{"scale":{"color":"independent"},"legend":{"color":"independent"}}},
{"hconcat":[
{"vconcat":[
{"width":187,"height":187,"view":{"stroke":"#444","strokeWidth":2},"layer":[
{"data":{"name":"spec"},"transform":[{"filter":"datum.g=='FN'"}],"mark":{"type":"line","strokeWidth":2.5,"clip":true},
"encoding":{"x":{"field":"p","type":"quantitative","scale":{"type":"log","domain":[0.1,20],"nice":false},"axis":{"values":[0.1,0.2,0.3,0.4,0.5,0.6,0.7,0.8,0.9,1,2,3,4,5,6,7,8,9,10,20],"labelExpr":"datum.value==0.1?'0.1':datum.value==1?'1':datum.value==10?'10':datum.value==20?'20':''","labelOverlap":false,"labelFlush":false,"grid":true,"gridColor":"#d9d9d9","domain":false,"ticks":false,"labelFontSize":12,"labelColor":"#222","labelPadding":5,"title":null}},
"y":{"field":"a","type":"quantitative","scale":{"type":"log","domain":[0.01,1000],"nice":false},"axis":{"values":[0.01,0.1,1,10,100,1000],"labelExpr":"'1e'+(datum.value>=1?'+':'-')+format(abs(log(datum.value)/LN10),'.0f')","grid":true,"gridColor":"#d9d9d9","domain":false,"ticks":false,"labelFontSize":12,"labelColor":"#222","labelPadding":7,"title":"Fourier Amp.(cm/s*s)","titleFontSize":15,"titleFontWeight":"normal","titleColor":"#000","titlePadding":9}},
"color":{"field":"s","type":"nominal","scale":{"domain":["A","B","C","D","E"],"range":["#000000","#FF0000","#0000FF","#139A96","#FF6A10"]},"legend":null}}},
{"data":{"values":[{}]},"mark":{"type":"text","text":"NS","fontWeight":"bold","fontSize":10,"align":"left","baseline":"top","dx":6,"dy":7},"encoding":{"x":{"datum":0.1,"type":"quantitative"},"y":{"datum":1000,"type":"quantitative"}}}
]},
{"width":187,"height":187,"view":{"stroke":"#444","strokeWidth":2},"layer":[
{"data":{"name":"spec"},"transform":[{"filter":"datum.g=='FE'"}],"mark":{"type":"line","strokeWidth":2.5,"clip":true},
"encoding":{"x":{"field":"p","type":"quantitative","scale":{"type":"log","domain":[0.1,20],"nice":false},"axis":{"values":[0.1,0.2,0.3,0.4,0.5,0.6,0.7,0.8,0.9,1,2,3,4,5,6,7,8,9,10,20],"labelExpr":"datum.value==0.1?'0.1':datum.value==1?'1':datum.value==10?'10':datum.value==20?'20':''","labelOverlap":false,"labelFlush":false,"grid":true,"gridColor":"#d9d9d9","domain":false,"ticks":false,"labelFontSize":12,"labelColor":"#222","labelPadding":5,"title":null}},
"y":{"field":"a","type":"quantitative","scale":{"type":"log","domain":[0.01,1000],"nice":false},"axis":{"values":[0.01,0.1,1,10,100,1000],"labelExpr":"'1e'+(datum.value>=1?'+':'-')+format(abs(log(datum.value)/LN10),'.0f')","grid":true,"gridColor":"#d9d9d9","domain":false,"ticks":false,"labelFontSize":12,"labelColor":"#222","labelPadding":7,"title":"Fourier Amp.(cm/s*s)","titleFontSize":15,"titleFontWeight":"normal","titleColor":"#000","titlePadding":9}},
"color":{"field":"s","type":"nominal","scale":{"domain":["A","B","C","D","E"],"range":["#000000","#FF0000","#0000FF","#139A96","#FF6A10"]},"legend":null}}},
{"data":{"values":[{}]},"mark":{"type":"text","text":"EW","fontWeight":"bold","fontSize":10,"align":"left","baseline":"top","dx":6,"dy":7},"encoding":{"x":{"datum":0.1,"type":"quantitative"},"y":{"datum":1000,"type":"quantitative"}}}
]},
{"width":187,"height":187,"view":{"stroke":"#444","strokeWidth":2},"layer":[
{"data":{"name":"spec"},"transform":[{"filter":"datum.g=='FU'"}],"mark":{"type":"line","strokeWidth":2.5,"clip":true},
"encoding":{"x":{"field":"p","type":"quantitative","scale":{"type":"log","domain":[0.1,20],"nice":false},"axis":{"values":[0.1,0.2,0.3,0.4,0.5,0.6,0.7,0.8,0.9,1,2,3,4,5,6,7,8,9,10,20],"labelExpr":"datum.value==0.1?'0.1':datum.value==1?'1':datum.value==10?'10':datum.value==20?'20':''","labelOverlap":false,"labelFlush":false,"grid":true,"gridColor":"#d9d9d9","domain":false,"ticks":false,"labelFontSize":12,"labelColor":"#222","labelPadding":5,"title":"Period(s)","titleFontSize":13,"titleFontWeight":"normal","titleColor":"#000","titlePadding":-2}},
"y":{"field":"a","type":"quantitative","scale":{"type":"log","domain":[0.01,1000],"nice":false},"axis":{"values":[0.01,0.1,1,10,100,1000],"labelExpr":"'1e'+(datum.value>=1?'+':'-')+format(abs(log(datum.value)/LN10),'.0f')","grid":true,"gridColor":"#d9d9d9","domain":false,"ticks":false,"labelFontSize":12,"labelColor":"#222","labelPadding":7,"title":"Fourier Amp.(cm/s*s)","titleFontSize":15,"titleFontWeight":"normal","titleColor":"#000","titlePadding":9}},
"color":{"field":"s","type":"nominal","scale":{"domain":["A","B","C","D","E"],"range":["#000000","#FF0000","#0000FF","#139A96","#FF6A10"]},"legend":{"orient":"none","legendX":10.5,"legendY":211,"padding":0,"title":null,"direction":"vertical","symbolType":"M-3,0H3","symbolStrokeWidth":4,"symbolSize":121,"labelOffset":37.5,"labelFont":"Noto Sans CJK JP","labelFontSize":13,"labelColor":"#000","rowPadding":-3,"labelExpr":"{'A':'霞が関','B':'新宿','C':'浦安','D':'幕張','E':'横浜'}[datum.label]"}}}},
{"data":{"values":[{}]},"mark":{"type":"text","text":"UD","fontWeight":"bold","fontSize":10,"align":"left","baseline":"top","dx":6,"dy":7},"encoding":{"x":{"datum":0.1,"type":"quantitative"},"y":{"datum":1000,"type":"quantitative"}}}
]}
],"spacing":23,"bounds":"flush","resolve":{"scale":{"color":"independent"},"legend":{"color":"independent"}}},
{"vconcat":[
{"width":188,"height":187,"view":{"stroke":"#444","strokeWidth":2},"layer":[
{"data":{"name":"spec"},"transform":[{"filter":"datum.g=='SN'"}],"mark":{"type":"line","strokeWidth":2.5,"clip":true},
"encoding":{"x":{"field":"p","type":"quantitative","scale":{"type":"log","domain":[0.1,20],"nice":false},"axis":{"values":[0.1,0.2,0.3,0.4,0.5,0.6,0.7,0.8,0.9,1,2,3,4,5,6,7,8,9,10,20],"labelExpr":"datum.value==0.1?'0.1':datum.value==1?'1':datum.value==10?'10':datum.value==20?'20':''","labelOverlap":false,"labelFlush":false,"grid":true,"gridColor":"#d9d9d9","domain":false,"ticks":false,"labelFontSize":12,"labelColor":"#222","labelPadding":5,"title":null}},
"y":{"field":"a","type":"quantitative","scale":{"type":"log","domain":[0.1,1000],"nice":false},"axis":{"values":[0.1,1,10,100,1000],"labelExpr":"'1e'+(datum.value>=1?'+':'-')+format(abs(log(datum.value)/LN10),'.0f')","grid":true,"gridColor":"#d9d9d9","domain":false,"ticks":false,"labelFontSize":12,"labelColor":"#222","labelPadding":9,"title":"SV(cm/s)","titleFontSize":15,"titleFontWeight":"normal","titleColor":"#000","titlePadding":8}},
"color":{"field":"s","type":"nominal","scale":{"domain":["A","B","C","D","E"],"range":["#000000","#FF0000","#0000FF","#139A96","#FF6A10"]},"legend":null}}},
{"data":{"values":[{}]},"mark":{"type":"text","text":"NS","fontWeight":"bold","fontSize":10,"align":"left","baseline":"top","dx":6,"dy":7},"encoding":{"x":{"datum":0.1,"type":"quantitative"},"y":{"datum":1000,"type":"quantitative"}}}
]},
{"width":188,"height":187,"view":{"stroke":"#444","strokeWidth":2},"layer":[
{"data":{"name":"spec"},"transform":[{"filter":"datum.g=='SE'"}],"mark":{"type":"line","strokeWidth":2.5,"clip":true},
"encoding":{"x":{"field":"p","type":"quantitative","scale":{"type":"log","domain":[0.1,20],"nice":false},"axis":{"values":[0.1,0.2,0.3,0.4,0.5,0.6,0.7,0.8,0.9,1,2,3,4,5,6,7,8,9,10,20],"labelExpr":"datum.value==0.1?'0.1':datum.value==1?'1':datum.value==10?'10':datum.value==20?'20':''","labelOverlap":false,"labelFlush":false,"grid":true,"gridColor":"#d9d9d9","domain":false,"ticks":false,"labelFontSize":12,"labelColor":"#222","labelPadding":5,"title":null}},
"y":{"field":"a","type":"quantitative","scale":{"type":"log","domain":[0.1,1000],"nice":false},"axis":{"values":[0.1,1,10,100,1000],"labelExpr":"'1e'+(datum.value>=1?'+':'-')+format(abs(log(datum.value)/LN10),'.0f')","grid":true,"gridColor":"#d9d9d9","domain":false,"ticks":false,"labelFontSize":12,"labelColor":"#222","labelPadding":9,"title":"SV(cm/s)","titleFontSize":15,"titleFontWeight":"normal","titleColor":"#000","titlePadding":8}},
"color":{"field":"s","type":"nominal","scale":{"domain":["A","B","C","D","E"],"range":["#000000","#FF0000","#0000FF","#139A96","#FF6A10"]},"legend":null}}},
{"data":{"values":[{}]},"mark":{"type":"text","text":"EW","fontWeight":"bold","fontSize":10,"align":"left","baseline":"top","dx":6,"dy":7},"encoding":{"x":{"datum":0.1,"type":"quantitative"},"y":{"datum":1000,"type":"quantitative"}}}
]},
{"width":188,"height":187,"view":{"stroke":"#444","strokeWidth":2},"layer":[
{"data":{"name":"spec"},"transform":[{"filter":"datum.g=='SU'"}],"mark":{"type":"line","strokeWidth":2.5,"clip":true},
"encoding":{"x":{"field":"p","type":"quantitative","scale":{"type":"log","domain":[0.1,20],"nice":false},"axis":{"values":[0.1,0.2,0.3,0.4,0.5,0.6,0.7,0.8,0.9,1,2,3,4,5,6,7,8,9,10,20],"labelExpr":"datum.value==0.1?'0.1':datum.value==1?'1':datum.value==10?'10':datum.value==20?'20':''","labelOverlap":false,"labelFlush":false,"grid":true,"gridColor":"#d9d9d9","domain":false,"ticks":false,"labelFontSize":12,"labelColor":"#222","labelPadding":5,"title":"Period(s)","titleFontSize":13,"titleFontWeight":"normal","titleColor":"#000","titlePadding":-2}},
"y":{"field":"a","type":"quantitative","scale":{"type":"log","domain":[0.1,1000],"nice":false},"axis":{"values":[0.1,1,10,100,1000],"labelExpr":"'1e'+(datum.value>=1?'+':'-')+format(abs(log(datum.value)/LN10),'.0f')","grid":true,"gridColor":"#d9d9d9","domain":false,"ticks":false,"labelFontSize":12,"labelColor":"#222","labelPadding":9,"title":"SV(cm/s)","titleFontSize":15,"titleFontWeight":"normal","titleColor":"#000","titlePadding":8}},
"color":{"field":"s","type":"nominal","scale":{"domain":["A","B","C","D","E"],"range":["#000000","#FF0000","#0000FF","#139A96","#FF6A10"]},"legend":{"orient":"none","legendX":10.5,"legendY":211,"padding":0,"title":null,"direction":"vertical","symbolType":"M-3,0H3","symbolStrokeWidth":4,"symbolSize":121,"labelOffset":37.5,"labelFont":"Noto Sans CJK JP","labelFontSize":13,"labelColor":"#000","rowPadding":-3,"labelExpr":"{'A':'霞が関','B':'新宿','C':'浦安','D':'幕張','E':'横浜'}[datum.label]"}}}},
{"data":{"values":[{}]},"mark":{"type":"text","text":"UD","fontWeight":"bold","fontSize":10,"align":"left","baseline":"top","dx":6,"dy":7},"encoding":{"x":{"datum":0.1,"type":"quantitative"},"y":{"datum":1000,"type":"quantitative"}}}
]}
],"spacing":23,"bounds":"flush","resolve":{"scale":{"color":"independent"},"legend":{"color":"independent"}}}
],"spacing":-1,"resolve":{"scale":{"color":"independent"},"legend":{"color":"independent"}}}
],
"spacing":11,
"resolve":{"scale":{"color":"independent"},"legend":{"color":"independent"}}
}
